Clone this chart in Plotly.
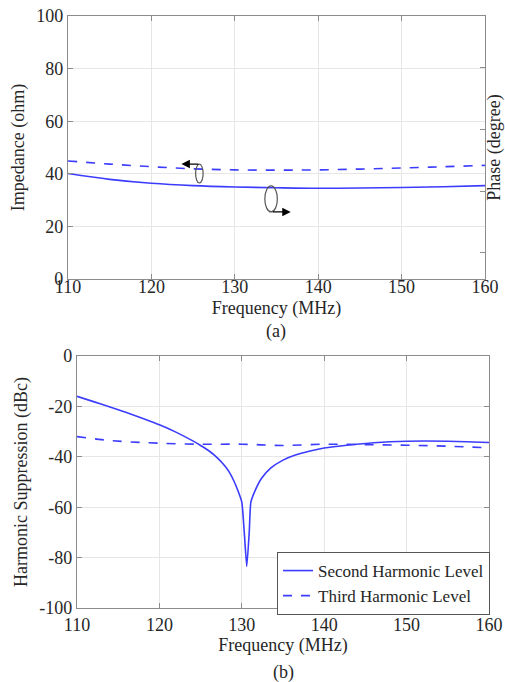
import plotly.graph_objects as go

# (a) impedance / phase
freq_a = [110, 115, 120, 125, 130, 135, 140, 145, 150, 155, 160]
imp_dashed = [44.9, 43.7, 42.7, 41.9, 41.5, 41.4, 41.5, 41.8, 42.2, 42.7, 43.2]
imp_solid = [40.1, 37.9, 36.4, 35.5, 35.0, 34.7, 34.5, 34.6, 34.8, 35.1, 35.5]

# (b) harmonic suppression
freq_2nd = [110, 112, 114, 116, 118, 120, 122, 124, 125, 126, 127, 128, 128.5, 129, 129.5, 130,
            130.3, 130.6, 130.9, 131.1, 131.6, 132.4, 133.5, 135, 136.5, 138.3, 140, 143, 146,
            150, 155, 160]
second_lvl = [-16, -18.1, -20.2, -22.4, -24.8, -27.3, -30.2, -33.6, -35.5, -37.6, -40.3, -43.8, -46.2,
              -49.3, -53.2, -58, -70, -83.5, -70, -58, -53.5, -48.5, -44.5, -41.3, -39.3, -37.7, -36.5,
              -35.3, -34.4, -33.8, -33.8, -34.3]
freq_3rd = [110, 113, 116, 120, 125, 130, 135, 140, 145, 150, 155, 160]
third_lvl = [-32, -33.2, -34, -34.6, -35, -35, -35.5, -35, -35.2, -35.4, -35.8, -36.4]

xticks = [110, 120, 130, 140, 150, 160]
yticks_a = [0, 20, 40, 60, 80, 100]
yticks_b = [0, -20, -40, -60, -80, -100]

blue = '#3c3cff'
ff = 'Liberation Serif'
axcol = '#8c8c8c'
grid = '#e6e6e6'
txt = '#262626'


def f(size=18):
    return dict(family=ff, size=size, color=txt)


fig = go.Figure()
fig.add_trace(go.Scatter(x=freq_a, y=imp_dashed, mode='lines', line=dict(color=blue, width=1.6, dash='dash', shape='spline'),
                         showlegend=False, xaxis='x', yaxis='y'))
fig.add_trace(go.Scatter(x=freq_a, y=imp_solid, mode='lines', line=dict(color=blue, width=1.6, shape='spline'),
                         showlegend=False, xaxis='x', yaxis='y'))
fig.add_trace(go.Scatter(x=freq_2nd, y=second_lvl, mode='lines', name='Second Harmonic Level',
                         line=dict(color=blue, width=1.6, shape='spline', smoothing=0.5), xaxis='x2', yaxis='y2'))
fig.add_trace(go.Scatter(x=freq_3rd, y=third_lvl, mode='lines', name='Third Harmonic Level',
                         line=dict(color=blue, width=1.6, dash='dash', shape='spline'), xaxis='x2', yaxis='y2'))
fig.add_trace(go.Scatter(x=[None], y=[None], yaxis='y3', xaxis='x', showlegend=False))

common = dict(showline=True, linecolor=axcol, linewidth=1.3, ticks='inside', ticklen=5, tickcolor=axcol,
              showgrid=True, gridcolor=grid, zeroline=False, tickfont=f(18), automargin=False)

fig.update_layout(
    width=505, height=682,
    margin=dict(l=0, r=0, t=0, b=0),
    plot_bgcolor='white', paper_bgcolor='white',
    font=f(18),
    xaxis=dict(domain=[0.1347, 0.9604], anchor='y', range=[110, 160], tickvals=xticks, mirror='ticks',
               ticklabelstandoff=-9,
               title=dict(text='Frequency (MHz)', standoff=5, font=f(18)), **common),
    yaxis=dict(domain=[0.5909, 0.9765], anchor='x', range=[0, 100], tickvals=yticks_a,
               title=dict(text='Impedance (ohm)', standoff=6, font=f(18)), **common),
    yaxis3=dict(overlaying='y', side='right', anchor='x', range=[-28.4, 56.5], tickvals=[-20, 0, 20, 40],
                showticklabels=False, showline=True, linecolor=axcol, linewidth=1.3, ticks='inside', ticklen=5,
                tickcolor=axcol, showgrid=False, zeroline=False, automargin=False,
                title=dict(text='Phase (degree)', standoff=2, font=f(18))),
    xaxis2=dict(domain=[0.1525, 0.9683], anchor='y2', range=[110, 160], tickvals=xticks, mirror='ticks',
                title=dict(text='Frequency (MHz)', standoff=0, font=f(18)), **common),
    yaxis2=dict(domain=[0.1085, 0.478], anchor='x2', range=[-100, 0], tickvals=yticks_b,
                ticktext=[str(v) for v in yticks_b], mirror='ticks',
                title=dict(text='Harmonic Suppression (dBc)', standoff=6, font=f(18)), **common),
    legend=dict(x=0.5485, y=0.1906, xanchor='left', yanchor='top', bgcolor='white', bordercolor='#555',
                borderwidth=1, font=f(17), tracegroupgap=0, itemwidth=30),
    shapes=[
        dict(type='circle', xref='x', yref='y', x0=125.3, x1=126.2, y0=36.5, y1=43.7,
             line=dict(color='#555', width=1.2)),
        dict(type='circle', xref='x', yref='y', x0=133.6, x1=135.1, y0=25.5, y1=35.4,
             line=dict(color='#555', width=1.2)),
    ],
    annotations=[
        dict(x=123.6, y=43.7, ax=125.8, ay=43.7, xref='x', yref='y', axref='x', ayref='y', text='',
             showarrow=True, arrowhead=2, arrowsize=1.3, arrowwidth=1.3, arrowcolor='black'),
        dict(x=136.7, y=25.5, ax=134.4, ay=25.5, xref='x', yref='y', axref='x', ayref='y', text='',
             showarrow=True, arrowhead=2, arrowsize=1.3, arrowwidth=1.3, arrowcolor='black'),
        dict(text='(a)', xref='paper', yref='paper', x=0.5475, y=1 - 331 / 682, showarrow=False,
             yanchor='middle', font=f(18)),
        dict(text='(b)', xref='paper', yref='paper', x=0.5604, y=1 - 672 / 682, showarrow=False,
             yanchor='middle', font=f(18)),
    ],
)

# drop the default page margin so the figure sits at the window corner
fig.write_html('out.html', config={'displayModeBar': False},
               post_script="document.body.style.margin='0px';")
